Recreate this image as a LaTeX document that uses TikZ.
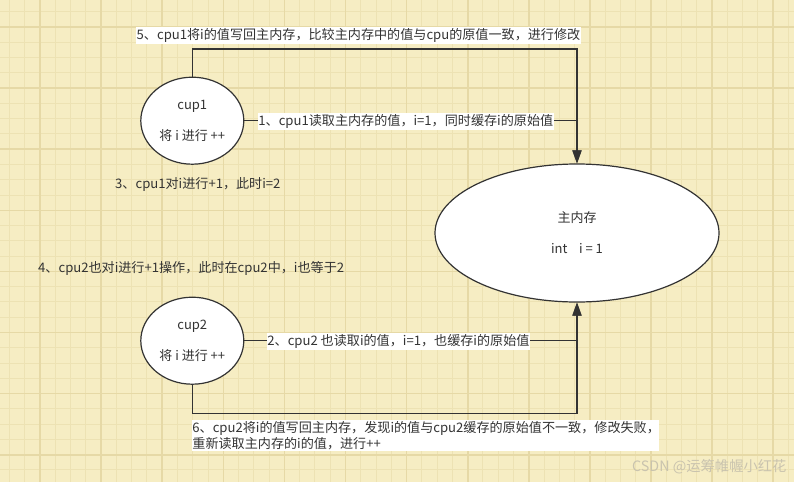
\documentclass[tikz,border=0pt]{standalone}
\usepackage{fontspec}
\setmainfont{Noto Sans CJK SC}
\usetikzlibrary{shapes.geometric,arrows.meta}
\definecolor{paper}{HTML}{F6EDC3}
\definecolor{gridminor}{HTML}{EDE2B3}
\definecolor{gridmajor}{HTML}{E6D9A6}
\definecolor{ink}{HTML}{333333}
\definecolor{wm}{HTML}{C9C3AE}
\tikzset{
  minorline/.style={draw=gridminor, line width=1pt},
  majorline/.style={draw=gridmajor, line width=1.6pt},
  cpubox/.style={ellipse, draw=ink, line width=1.2pt, fill=white, text=ink,
    minimum width=103pt, minimum height=87pt, inner sep=0pt, align=center,
    font=\fontsize{13}{15.5}\selectfont},
  membox/.style={ellipse, draw=ink, line width=1.2pt, fill=white, text=ink,
    minimum width=284pt, minimum height=138pt, inner sep=0pt, align=center,
    font=\fontsize{13}{15.5}\selectfont},
  conn/.style={draw=ink, line width=1.3pt},
  arr/.style={conn, -{Triangle[length=13pt,width=9pt]}},
  lbl/.style={fill=white, text=ink, inner xsep=0.5pt, inner ysep=1.5pt, anchor=west,
    font=\fontsize{13.1}{16}\selectfont},
  plain/.style={text=ink, inner sep=0pt, anchor=west, font=\fontsize{13.1}{16}\selectfont},
}
\begin{document}
\begin{tikzpicture}[x=1pt,y=-1pt]
\useasboundingbox (0,0) rectangle (794,482);
\fill[paper] (0,0) rectangle (794,482);
% grid
\foreach \i in {0,...,51} \draw[minorline] ({9.45+15.275*\i},0) -- ({9.45+15.275*\i},482);
\foreach \j in {0,...,30} \draw[minorline] (0,{11.7+15.275*\j}) -- (794,{11.7+15.275*\j});
\foreach \i in {0,...,12} \draw[majorline] ({40+61.1*\i},0) -- ({40+61.1*\i},482);
\foreach \j in {0,...,7} \draw[majorline] (0,{27+61.1*\j}) -- (794,{27+61.1*\j});

% nodes
\node[cpubox] (cup1) at (192.3,120.7) {cup1\\[15.5pt]将 i 进行 ++};
\node[cpubox] (cup2) at (192.3,340.7) {cup2\\[15.5pt]将 i 进行 ++};
\node[membox] (main) at (577,233) {主内存\\[15.5pt]int\ \ \ \ i = 1};

\coordinate (t5) at (577,49);
\coordinate (b6) at (577,413.3);

% connectors
\draw[arr] (cup1.north) |- (t5) -- (main.north);
\draw[arr] (cup1.east) -| (main.north);
\draw[arr] (cup2.east) -| (main.south);
\draw[arr] (cup2.south) |- (b6) -- (main.south);

% labels
\node[lbl] (l5) at (136,35.5) {5、cpu1将i的值写回主内存，比较主内存中的值与cpu的原值一致，进行修改};
\node[lbl] (l1) at (257.7,121.3) {1、cpu1读取主内存的值，i=1，同时缓存i的原始值};
\node[lbl] (l2) at (266.7,341.5) {2、cpu2 也读取i的值，i=1，也缓存i的原始值};
\node[plain] (l3) at (115,184) {3、cpu1对i进行+1，此时i=2};
\node[plain] (l4) at (38,268) {4、cpu2也对i进行+1操作，此时在cpu2中，i也等于2};
\node[lbl, anchor=north west, align=left, inner ysep=1pt, text width=466pt]
  (l6) at (191.7,420) {6、cpu2将i的值写回主内存，发现i的值与cpu2缓存的原始值不一致，修改失败，\\重新读取主内存的i的值，进行++};
\node[text=wm, inner sep=0pt, anchor=west, font=\fontsize{14.3}{17}\selectfont] (wmk) at (632,467) {CSDN @运筹帷幄小红花};
\end{tikzpicture}
\end{document}
